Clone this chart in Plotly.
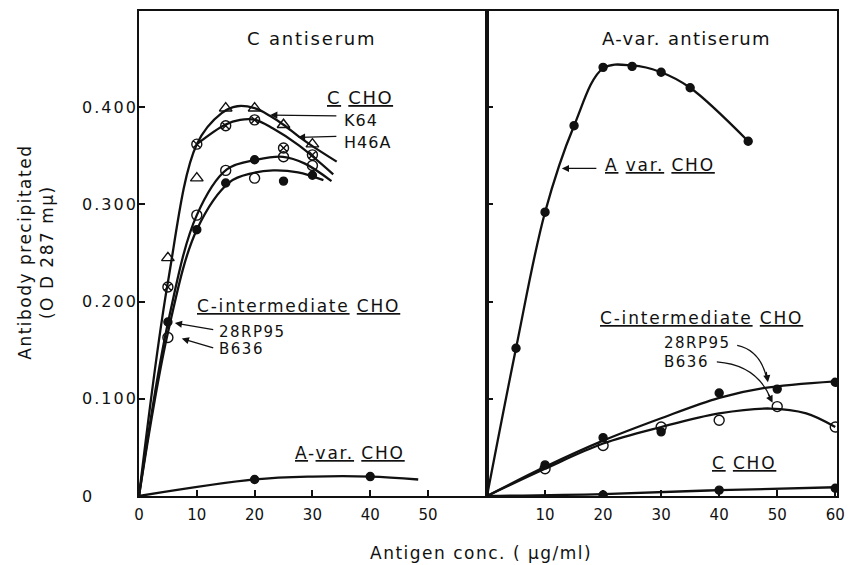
import plotly.graph_objects as go

# ---------------- data: left panel (C antiserum) ----------------
conc_c = [5, 10, 15, 20, 25, 30]
k64_c = [0.245, 0.327, 0.399, 0.399, 0.382, 0.362]      # triangles
h46a_c = [0.215, 0.362, 0.381, 0.387, 0.358, 0.351]     # circled x
b636_c = [0.163, 0.289, 0.335, 0.327, 0.349, 0.340]     # open circles
rp95_c = [0.179, 0.274, 0.322, 0.346, 0.324, 0.330]     # filled circles
avar_c_x = [20, 40]
avar_c = [0.017, 0.020]

# hand-drawn fitted curves
k64_fit_x = [0, 5, 10, 14.3, 17, 20, 22.7, 25, 27.6, 30, 34.2]
k64_fit_y = [0, 0.22, 0.362, 0.394, 0.401, 0.399, 0.391, 0.382, 0.370, 0.360, 0.344]
h46a_fit_x = [10, 14.9, 17.5, 20.1, 23.2, 27.6, 33.6]
h46a_fit_y = [0.362, 0.382, 0.387, 0.387, 0.378, 0.361, 0.331]
b636_fit_x = [0, 5, 10, 15.2, 20.4, 24.9, 28.7, 33.3]
b636_fit_y = [0, 0.178, 0.289, 0.336, 0.346, 0.349, 0.342, 0.324]
rp95_fit_x = [0, 5, 10, 15.7, 19.5, 23.2, 27.5, 31.9]
rp95_fit_y = [0, 0.168, 0.274, 0.323, 0.332, 0.335, 0.333, 0.325]
avar_c_fit_x = [0, 20, 30, 40, 48.3]
avar_c_fit_y = [0, 0.017, 0.020, 0.020, 0.017]

# ---------------- data: right panel (A-var. antiserum) ----------------
conc_a = [5, 10, 15, 20, 25, 30, 35, 45]
avar_a = [0.152, 0.292, 0.381, 0.441, 0.442, 0.436, 0.420, 0.365]
avar_fit_x = [0, 5, 10, 15, 20, 25, 30, 35, 45]
avar_fit_y = [0, 0.152, 0.292, 0.381, 0.440, 0.443, 0.436, 0.420, 0.365]

conc_i = [10, 20, 30, 40, 50, 60]
rp95_a = [0.032, 0.060, 0.066, 0.106, 0.110, 0.117]
b636_a = [0.028, 0.052, 0.071, 0.078, 0.092, 0.071]
rp95_a_fit_x = [0, 10, 20, 30, 40, 47.6, 60]
rp95_a_fit_y = [0, 0.030, 0.057, 0.080, 0.101, 0.111, 0.118]
b636_a_fit_x = [0, 10, 20, 30, 40, 48.8, 55, 60]
b636_a_fit_y = [0, 0.028, 0.054, 0.071, 0.085, 0.090, 0.085, 0.071]

c_a_x = [20, 40, 60]
c_a = [0.001, 0.006, 0.008]
c_a_fit_x = [0, 20, 40, 60]
c_a_fit_y = [0, 0.002, 0.006, 0.009]

# ticks
y_ticks = [0, 0.1, 0.2, 0.3, 0.4]
y_tick_text = ["0", "0.100", "0.200", "0.300", "0.400"]
x_ticks_left = [0, 10, 20, 30, 40, 50]
x_ticks_right = [10, 20, 30, 40, 50, 60]

FONT = "DejaVu Sans"
BLACK = "#111111"


def ls(t, px):
    return f'<span style="letter-spacing:{px}px">{t}</span>'


fig = go.Figure()


def curve(x, y, xa, ya):
    fig.add_trace(go.Scatter(x=x, y=y, mode="lines", xaxis=xa, yaxis=ya,
                             line=dict(color=BLACK, width=2.3, shape="spline", smoothing=1.0),
                             showlegend=False, hoverinfo="skip"))


def pts(x, y, xa, ya, symbol, size):
    fig.add_trace(go.Scatter(x=x, y=y, mode="markers", xaxis=xa, yaxis=ya,
                             marker=dict(symbol=symbol, size=size, color=BLACK,
                                         line=dict(color=BLACK, width=1.4)),
                             showlegend=False))


# left panel
curve(k64_fit_x, k64_fit_y, "x", "y")
curve(h46a_fit_x, h46a_fit_y, "x", "y")
curve(b636_fit_x, b636_fit_y, "x", "y")
curve(rp95_fit_x, rp95_fit_y, "x", "y")
curve(avar_c_fit_x, avar_c_fit_y, "x", "y")
pts(conc_c, k64_c, "x", "y", "triangle-up-open", 11)
pts(conc_c, h46a_c, "x", "y", "circle-x-open", 10)
pts(conc_c, b636_c, "x", "y", "circle-open", 10)
pts(conc_c, rp95_c, "x", "y", "circle", 8)
pts(avar_c_x, avar_c, "x", "y", "circle", 8)

# right panel
curve(avar_fit_x, avar_fit_y, "x2", "y2")
curve(rp95_a_fit_x, rp95_a_fit_y, "x2", "y2")
curve(b636_a_fit_x, b636_a_fit_y, "x2", "y2")
curve(c_a_fit_x, c_a_fit_y, "x2", "y2")
pts(conc_a, avar_a, "x2", "y2", "circle", 8)
pts(conc_i, rp95_a, "x2", "y2", "circle", 8)
pts(conc_i, b636_a, "x2", "y2", "circle-open", 10)
pts(c_a_x, c_a, "x2", "y2", "circle", 8)

split = 348 / 698
axis_common = dict(showline=True, linecolor=BLACK, linewidth=2, showgrid=False,
                   zeroline=False, ticks="inside", ticklen=6, tickwidth=1.5,
                   tickcolor=BLACK, automargin=False)

fig.update_layout(
    width=849, height=565, autosize=False,
    margin=dict(l=139, r=12, t=11, b=69, autoexpand=False),
    paper_bgcolor="white", plot_bgcolor="white",
    font=dict(family=FONT, color=BLACK, size=15),
    xaxis=dict(domain=[0, split], range=[0, 60.2], tickvals=x_ticks_left,
               ticktext=[str(v) for v in x_ticks_left], mirror=True,
               ticklabelstandoff=4, tickfont=dict(size=15), **axis_common),
    xaxis2=dict(domain=[split, 1], range=[0, 60.3], tickvals=x_ticks_right,
                ticktext=[str(v) for v in x_ticks_right], mirror=True, anchor="y2",
                ticklabelstandoff=4, tickfont=dict(size=15), **axis_common),
    yaxis=dict(domain=[0, 1], range=[0, 0.499], tickvals=y_ticks[1:],
               showticklabels=False, mirror=True, anchor="x", **axis_common),
    yaxis2=dict(domain=[0, 1], range=[0, 0.499], tickvals=y_ticks[1:],
                showticklabels=False, mirror=True, anchor="x2", matches="y", **axis_common),
)

ann = []
# y tick labels (left aligned as in the original)
for v, t in zip(y_ticks, y_tick_text):
    ann.append(dict(xref="paper", yref="y", x=-0.0845, y=v, text=ls(t, 2),
                    xanchor="left", yanchor="middle", showarrow=False,
                    font=dict(size=16)))

# axis titles
ann.append(dict(xref="paper", yref="paper", x=-0.148, y=0.503,
                text=ls("Antibody precipitated", 1.5) + "<br>" + ls("(O D 287 mμ)", 1.5),
                textangle=-90, showarrow=False, xanchor="center", yanchor="middle",
                font=dict(size=17)))
ann.append(dict(xref="paper", yref="paper", x=0.49, y=-0.1175,
                text=ls("Antigen conc. ( μg/ml)", 1.5), showarrow=False,
                xanchor="center", yanchor="middle", font=dict(size=17)))

# panel titles
ann.append(dict(xref="x", yref="y", x=29.9, y=0.471, text=ls("C antiserum", 1.8),
                showarrow=False, font=dict(size=18)))
ann.append(dict(xref="x2", yref="y2", x=34.3, y=0.471, text=ls("A-var. antiserum", 1.3),
                showarrow=False, font=dict(size=18)))


def label(xr, yr, x, y, text, size=17, sp=1.8):
    ann.append(dict(xref=xr, yref=yr, x=x, y=y, text=ls(text, sp), showarrow=False,
                    xanchor="left", yanchor="middle", font=dict(size=size)))


def arrow(xr, yr, x, y, ax, ay):
    ann.append(dict(xref=xr, yref=yr, x=x, y=y, ax=ax, ay=ay, axref=xr, ayref=yr,
                    text="", showarrow=True, arrowhead=2, arrowsize=1.1,
                    arrowwidth=1.3, arrowcolor=BLACK))


# left panel labels
label("x", "y", 32.2, 0.410, "<u>C</u> <u>CHO</u>", 18, 1.5)
label("x", "y", 35.1, 0.386, "K64", 16, 1.0)
label("x", "y", 35.1, 0.364, "H46A", 16, 1.0)
arrow("x", "y", 22.7, 0.392, 34.4, 0.391)
arrow("x", "y", 27.5, 0.369, 34.4, 0.370)
label("x", "y", 9.7, 0.195, "<u>C-intermediate</u> <u>CHO</u>", 17, 1.8)
label("x", "y", 13.5, 0.169, "28RP95", 15, 1.5)
label("x", "y", 13.5, 0.151, "B636", 15, 1.5)
arrow("x", "y", 6.2, 0.178, 13.1, 0.171)
arrow("x", "y", 7.4, 0.162, 13.1, 0.152)
label("x", "y", 26.6, 0.044, "<u>A</u>-<u>var.</u> <u>CHO</u>", 17, 1.8)

# right panel labels
label("x2", "y2", 20.0, 0.341, "<u>A</u> <u>var.</u> <u>CHO</u>", 17, 1.8)
arrow("x2", "y2", 12.9, 0.337, 19.1, 0.337)
label("x2", "y2", 19.1, 0.183, "<u>C-intermediate</u> <u>CHO</u>", 17, 1.8)
label("x2", "y2", 30.2, 0.157, "28RP95", 15, 1.5)
label("x2", "y2", 30.2, 0.138, "B636", 15, 1.5)
label("x2", "y2", 38.4, 0.034, "<u>C</u> <u>CHO</u>", 17, 1.8)

# curved leader lines in the right panel
shapes = [
    dict(type="path", xref="x2", yref="y2", path="M 43.1,0.155 Q 47.1,0.150 48.2,0.121",
         line=dict(color=BLACK, width=1.3)),
    dict(type="path", xref="x2", yref="y2", path="M 39.6,0.138 Q 46.5,0.135 48.9,0.100",
         line=dict(color=BLACK, width=1.3)),
]
ann.append(dict(xref="x2", yref="y2", x=48.4, y=0.117, ax=-2, ay=-12, text="",
                showarrow=True, arrowhead=2, arrowsize=1.1, arrowwidth=1.3, arrowcolor=BLACK))
ann.append(dict(xref="x2", yref="y2", x=49.2, y=0.096, ax=-5, ay=-10, text="",
                showarrow=True, arrowhead=2, arrowsize=1.1, arrowwidth=1.3, arrowcolor=BLACK))

fig.update_layout(annotations=ann, shapes=shapes)
fig.write_html("out.html",
               config={"displayModeBar": False, "responsive": False},
               post_script="document.body.style.margin='0px';document.body.style.padding='0px';"
                           "document.body.style.overflow='hidden';"
                           "document.documentElement.style.overflow='hidden';")
